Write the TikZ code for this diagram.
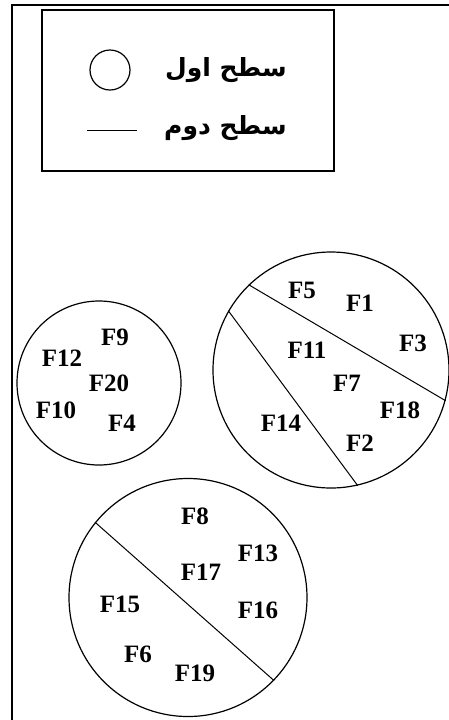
\documentclass[tikz,border=0pt]{standalone}
\usepackage{fontspec}
\setmainfont{Liberation Serif}
\newfontfamily\persianfont[Script=Arabic]{DejaVu Sans}
\TeXXeTstate=1
\usetikzlibrary{positioning}

\begin{document}
\begin{tikzpicture}[x=.5pt,y=-.5pt]
	\tikzset{lbl/.style={inner sep=0pt,font=\fontsize{12.5}{14}\selectfont\bfseries},
		level/.style={draw,shape=circle,line width=.6pt,inner sep=0pt},
		cut/.style={line width=.5pt},
		legtext/.style={anchor=east,inner sep=0pt,font=\persianfont\fontsize{12.5}{15}\selectfont\bfseries}
	}
	\useasboundingbox (0,0) rectangle (449,720);
	\draw[line width=1.2pt] (12,720) -- (12,5) -- (449,5);
	% legend
	\node [draw,line width=.6pt,minimum width=146pt,minimum height=80.5pt] (legend) at (188,90.5) {};
	\node [level,minimum size=20pt] (lc) at (110,70) {};
	\node [legtext] (t1) at (287,70) {\beginR سطح اول\endR};
	\node [legtext] (t2) at (287,128) {\beginR سطح دوم\endR};
	\coordinate (l1) at (87,130);
	\coordinate (l2) at (137,130);
	\draw [cut] (l1) -- (l2);
	% groups
	\node [level,minimum size=118pt] (c1) at (331,370) {};
	\node [level,minimum size=82pt] (c2) at (99,383) {};
	\node [level,minimum size=119pt] (c3) at (188,597.5) {};
	\draw [cut] (c1.134.3) -- (c1.-15.8);
	\draw [cut] (c1.150.6) -- (c1.-77.6);
	\draw [cut] (c3.141.3) -- (c3.-44.8);
	\node [lbl] (f5) at (302,290) {F5};
	\node [lbl] (f1) at (360,303) {F1};
	\node [lbl] (f3) at (413,343) {F3};
	\node [lbl] (f11) at (307,350) {F11};
	\node [lbl] (f7) at (347,383) {F7};
	\node [lbl] (f18) at (400,410) {F18};
	\node [lbl] (f14) at (281,423) {F14};
	\node [lbl] (f2) at (360,443) {F2};
	\node [lbl] (f9) at (115,337) {F9};
	\node [lbl] (f12) at (62,358) {F12};
	\node [lbl] (f20) at (109,383) {F20};
	\node [lbl] (f10) at (56,410) {F10};
	\node [lbl] (f4) at (122,423) {F4};
	\node [lbl] (f8) at (195,516) {F8};
	\node [lbl] (f13) at (258,553) {F13};
	\node [lbl] (f17) at (201,572) {F17};
	\node [lbl] (f15) at (120,604) {F15};
	\node [lbl] (f16) at (258,610) {F16};
	\node [lbl] (f6) at (138,654) {F6};
	\node [lbl] (f19) at (195,673) {F19};
\end{tikzpicture}
\end{document}
